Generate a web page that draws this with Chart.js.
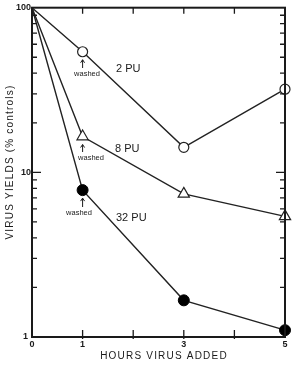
<!DOCTYPE html>
<html>
<head>
<meta charset="utf-8">
<script src="https://cdn.jsdelivr.net/npm/chart.js@4/dist/chart.umd.min.js"></script>
<style>
  html, body { margin: 0; padding: 0; background: #fff; }
  #wrap { width: 295px; height: 367px; }
</style>
</head>
<body>
<div id="wrap"><canvas id="virusChart" width="295" height="367"></canvas></div>
<script>
// hours after infection when the second virus was added
var hours = [0, 1, 3, 5];
// virus yields, % of controls
var yield2PU = [100, 54, 14.2, 32];
var yield8PU = [100, 16.5, 7.4, 5.4];
var yield32PU = [100, 7.8, 1.67, 1.1];
var seriesNames = ['2 PU', '8 PU', '32 PU'];
var xTickLabels = ['0', '1', '3', '5'];
var yTickLabels = ['100', '10', '1'];

function toPoints(values) {
  return hours.map(function(h, i) { return { x: h, y: values[i] }; });
}

var INK = '#1a1a1a';
var FONT = '"Liberation Sans", Arial, sans-serif';

// axes frame, inward ticks, labels and the "washed" notes
var paperAxes = {
  id: 'paperAxes',
  afterDraw: function(chart) {
    var ctx = chart.ctx;
    var a = chart.chartArea;
    var xs = chart.scales.x;
    var ys = chart.scales.y;
    ctx.save();
    ctx.strokeStyle = INK;
    ctx.lineWidth = 2;
    ctx.strokeRect(a.left, a.top, a.right - a.left, a.bottom - a.top);

    ctx.lineWidth = 1.3;
    ctx.beginPath();
    // x ticks on top and bottom
    for (var h = 1; h <= 4; h++) {
      var px = xs.getPixelForValue(h);
      ctx.moveTo(px, a.bottom + 2); ctx.lineTo(px, a.bottom - 7);
      ctx.moveTo(px, a.top); ctx.lineTo(px, a.top + 6);
    }
    // log ticks on left and right
    [1, 10].forEach(function(dec) {
      for (var m = 1; m <= 9; m++) {
        var v = dec * m;
        if (v === 1) continue;
        var py = ys.getPixelForValue(v);
        var len = (m === 1) ? 9 : 5;
        ctx.moveTo(a.left, py); ctx.lineTo(a.left + len, py);
        ctx.moveTo(a.right, py); ctx.lineTo(a.right - len, py);
      }
    });
    ctx.stroke();

    // tick labels
    ctx.fillStyle = INK;
    ctx.font = 'bold 9px ' + FONT;
    ctx.textAlign = 'center';
    ctx.textBaseline = 'middle';
    xTickLabels.forEach(function(t) {
      ctx.fillText(t, xs.getPixelForValue(Number(t)), a.bottom + 8);
    });
    ctx.textAlign = 'right';
    yTickLabels.forEach(function(t) {
      var dx = t === '1' ? -4 : -1;
      ctx.fillText(t, a.left + dx, ys.getPixelForValue(Number(t)));
    });

    // axis titles
    ctx.font = '10px ' + FONT;
    ctx.letterSpacing = '1.2px';
    ctx.textAlign = 'center';
    ctx.fillText('HOURS VIRUS ADDED', 164, 356);
    ctx.save();
    ctx.translate(10, 162);
    ctx.rotate(-Math.PI / 2);
    ctx.fillText('VIRUS YIELDS (% controls)', 0, 0);
    ctx.restore();
    ctx.letterSpacing = '0px';

    // series labels and washed arrows
    var notes = [
      { ds: 0, labelX: 116, labelY: 69, washY: 74, washX: 87 },
      { ds: 1, labelX: 115, labelY: 149, washY: 158, washX: 91 },
      { ds: 2, labelX: 116, labelY: 218, washY: 213, washX: 79 }
    ];
    notes.forEach(function(n) {
      var pt = chart.getDatasetMeta(n.ds).data[1];
      ctx.font = '11px ' + FONT;
      ctx.textAlign = 'left';
      ctx.fillText(seriesNames[n.ds], n.labelX, n.labelY);
      ctx.font = '7.5px ' + FONT;
      ctx.textAlign = 'center';
      ctx.fillText('washed', n.washX, n.washY);
      var top = pt.y + 8;
      var bot = n.washY - 6;
      ctx.lineWidth = 1;
      ctx.beginPath();
      ctx.moveTo(pt.x, bot); ctx.lineTo(pt.x, top);
      ctx.moveTo(pt.x - 2, top + 3); ctx.lineTo(pt.x, top); ctx.lineTo(pt.x + 2, top + 3);
      ctx.stroke();
    });
    ctx.restore();
  }
};

var ctx = document.getElementById('virusChart').getContext('2d');
var virusChart = new Chart(ctx, {
  type: 'line',
  data: {
    datasets: [
      {
        label: seriesNames[0],
        data: toPoints(yield2PU),
        borderColor: '#222',
        borderWidth: 1.4,
        pointStyle: 'circle',
        pointRadius: [0, 5, 5, 5],
        pointBackgroundColor: '#fff',
        pointBorderColor: '#222',
        pointBorderWidth: 1.2,
        clip: false
      },
      {
        label: seriesNames[1],
        data: toPoints(yield8PU),
        borderColor: '#222',
        borderWidth: 1.4,
        pointStyle: 'triangle',
        pointRadius: [0, 6.5, 6.5, 6.5],
        pointBackgroundColor: '#fff',
        pointBorderColor: '#222',
        pointBorderWidth: 1.2,
        clip: false
      },
      {
        label: seriesNames[2],
        data: toPoints(yield32PU),
        borderColor: '#222',
        borderWidth: 1.4,
        pointStyle: 'circle',
        pointRadius: [0, 5.5, 5.5, 5.5],
        pointBackgroundColor: '#000',
        pointBorderColor: '#000',
        pointBorderWidth: 1,
        clip: false
      }
    ]
  },
  options: {
    responsive: false,
    animation: false,
    events: [],
    layout: { padding: { left: 32, right: 10, top: 6, bottom: 30 } },
    plugins: { legend: { display: false }, tooltip: { enabled: false } },
    scales: {
      x: { type: 'linear', min: 0, max: 5, display: false },
      y: { type: 'logarithmic', min: 1, max: 100, display: false }
    }
  },
  plugins: [paperAxes]
});
</script>
</body>
</html>
